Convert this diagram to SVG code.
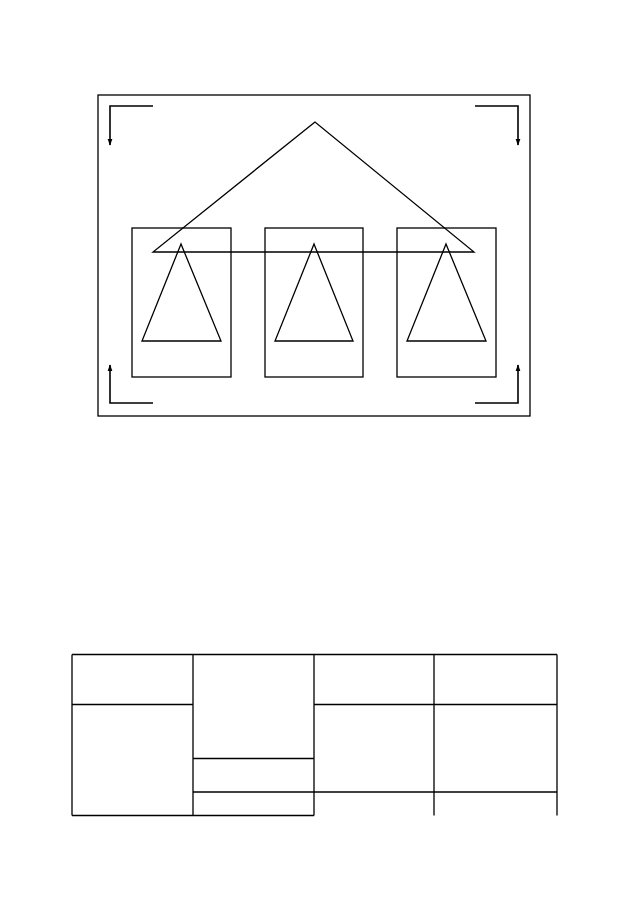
<svg xmlns="http://www.w3.org/2000/svg" width="641" height="901" viewBox="0 0 641 901">
<style>
.l{fill:none;stroke:#000;stroke-width:1.3}
.t{fill:none;stroke:#000;stroke-width:1.6}
</style>
<defs>
<marker id="ah" viewBox="0 0 10 10" refX="9" refY="5" markerWidth="7" markerHeight="7" orient="auto" markerUnits="userSpaceOnUse">
<path d="M0,1.5 L10,5 L0,8.5 z" fill="#000"/>
</marker>
</defs>
<rect width="641" height="901" fill="#fff"/>
<g id="frame">
<rect class="l" x="98" y="95" width="432" height="321"/>
</g>
<g id="box1"><rect class="l" x="132" y="228" width="99" height="149"/><polygon class="l" points="181,244 142,341 221,341"/></g>
<g id="box2"><rect class="l" x="265" y="228" width="98" height="149"/><polygon class="l" points="314,244 275,341 353,341"/></g>
<g id="box3"><rect class="l" x="397" y="228" width="99" height="149"/><polygon class="l" points="446,244 407,341 486,341"/></g>
<g id="roof"><polygon class="l" points="315,122 153,252 474,252"/></g>
<g id="connectors">
<polyline class="t" points="153,106 110,106 110,145" marker-end="url(#ah)"/>
<polyline class="t" points="475,106 518,106 518,145" marker-end="url(#ah)"/>
<polyline class="t" points="153,403 110,403 110,365" marker-end="url(#ah)"/>
<polyline class="t" points="475,403 518,403 518,365" marker-end="url(#ah)"/>
</g>
<g id="table">
<path class="l" d="M72,654.5 H557 M72,654.5 V815.5 M193,654.5 V815.5 M314,654.5 V815.5 M434,654.5 V815.5 M557,654.5 V815.5 M72,704.5 H193 M314,704.5 H557 M193,758.5 H314 M193,792 H557 M72,815.5 H314"/>
</g>
</svg>
